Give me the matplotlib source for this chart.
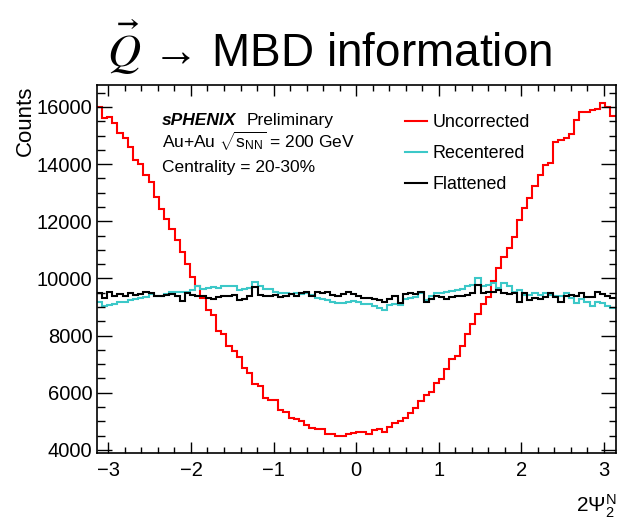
import numpy as np
import matplotlib
matplotlib.use('Agg')
import matplotlib.pyplot as plt
from matplotlib.ticker import MultipleLocator

plt.rcParams['font.family'] = ['Liberation Sans', 'DejaVu Sans']
plt.rcParams['mathtext.fontset'] = 'custom'
plt.rcParams['mathtext.rm'] = 'Liberation Sans'
plt.rcParams['mathtext.it'] = 'Liberation Sans:italic'
plt.rcParams['mathtext.bf'] = 'Liberation Sans:bold'

# 100 bins over [-pi, pi]
n_bins = 100

uncorrected = [16000, 15600, 15640, 15450, 15080, 14920, 14610, 14140, 14020, 13610,
               13380, 12850, 12440, 12090, 11740, 11330, 10920, 10510, 10060, 9720,
               9330, 8910, 8710, 8160, 8070, 7620, 7460, 7250, 6850, 6700,
               6320, 6240, 5810, 5760, 5740, 5400, 5340, 5110, 5075, 4995,
               4880, 4760, 4740, 4715, 4560, 4540, 4480, 4470, 4570, 4600,
               4620, 4610, 4550, 4680, 4720, 4630, 4800, 4935, 5005, 5120,
               5305, 5450, 5700, 5910, 6030, 6350, 6480, 6830, 7180, 7300,
               7650, 8060, 8410, 8760, 9110, 9350, 9900, 10350, 10760, 11080,
               11460, 12050, 12450, 12800, 13220, 13630, 13970, 14030, 14780, 14860,
               14930, 15060, 15550, 15820, 15830, 15880, 15940, 16150, 16010, 15690]

recentered = [9190, 9020, 9075, 9100, 9160, 9190, 9250, 9280, 9310, 9340,
              9450, 9370, 9390, 9450, 9540, 9510, 9540, 9540, 9600, 9720,
              9640, 9660, 9690, 9660, 9720, 9720, 9740, 9580, 9620, 9660,
              9860, 9720, 9620, 9620, 9520, 9480, 9480, 9460, 9480, 9460,
              9480, 9430, 9310, 9270, 9230, 9190, 9150, 9130, 9180, 9220,
              9170, 9110, 9090, 9030, 8980, 8880, 9080, 9110, 9070, 9290,
              9310, 9340, 9480, 9260, 9370, 9480, 9490, 9540, 9550, 9580,
              9620, 9720, 9770, 10030, 9740, 9770, 9830, 9660, 9830, 9740,
              9540, 9600, 9430, 9430, 9480, 9430, 9480, 9430, 9370, 9370,
              9480, 9310, 9130, 9270, 9190, 9020, 9190, 9130, 9020, 8960]

flattened = [9480, 9310, 9520, 9390, 9460, 9390, 9480, 9430, 9450, 9540,
             9480, 9390, 9390, 9430, 9450, 9390, 9200, 9480, 9430, 9390,
             9370, 9310, 9280, 9340, 9370, 9390, 9430, 9250, 9280, 9390,
             9690, 9430, 9390, 9390, 9410, 9340, 9390, 9450, 9370, 9480,
             9540, 9370, 9540, 9480, 9540, 9430, 9390, 9450, 9540, 9470,
             9380, 9320, 9310, 9270, 9250, 9160, 9270, 9390, 9130, 9450,
             9480, 9450, 9540, 9190, 9270, 9370, 9340, 9270, 9340, 9390,
             9370, 9430, 9480, 9770, 9480, 9540, 9510, 9580, 9480, 9460,
             9480, 9190, 9480, 9250, 9310, 9270, 9340, 9480, 9340, 9190,
             9370, 9430, 9370, 9480, 9340, 9340, 9510, 9450, 9370, 9310]

x_ticks = [-3, -2, -1, 0, 1, 2, 3]
x_ticklabels = ['\u22123', '\u22122', '\u22121', '0', '1', '2', '3']

edges = np.linspace(-np.pi, np.pi, n_bins + 1)

W, H = 619, 519
fig = plt.figure(figsize=(W / 100, H / 100), dpi=100)
ax = fig.add_axes([96.7 / W, 1 - 453 / H, (615.5 - 96.7) / W, (453 - 85) / H])

ax.stairs(uncorrected, edges, baseline=None, color='#ff0000', lw=1.5, label='Uncorrected')
ax.stairs(recentered, edges, baseline=None, color='#3cc8c8', lw=1.5, label='Recentered')
ax.stairs(flattened, edges, baseline=None, color='black', lw=1.5, label='Flattened')

ax.set_xlim(-np.pi, np.pi)
ax.set_ylim(3890, 16770)

ax.set_xticks(x_ticks)
ax.set_xticklabels(x_ticklabels)
ax.xaxis.set_minor_locator(MultipleLocator(0.2))
ax.yaxis.set_major_locator(MultipleLocator(2000))
ax.yaxis.set_minor_locator(MultipleLocator(500))
ax.tick_params(which='both', direction='in', top=True, right=True, width=1.0, labelsize=14.5)
ax.tick_params(axis='x', which='major', length=8, pad=6)
ax.tick_params(axis='x', which='minor', length=4)
ax.tick_params(axis='y', which='major', length=10.8, pad=3)
ax.tick_params(axis='y', which='minor', length=5.4)
for s in ax.spines.values():
    s.set_linewidth(1.2)

ax.legend(loc='upper left', bbox_to_anchor=(405 / W, 1 - 114 / H), bbox_transform=fig.transFigure,
          frameon=False, fontsize=12.9, handlelength=1.2, handletextpad=0.35,
          labelspacing=0.78, borderpad=0, borderaxespad=0)

# title
fig.text(107 / W, 1 - 67 / H, '$\\vec{Q}$ \u2192 MBD information',
         fontsize=33, ha='left', va='baseline', math_fontfamily='stix')

# axis titles
fig.text(25 / W, 1 - 86 / H, 'Counts', rotation=90, fontsize=16, ha='center', va='top')
fig.text(617 / W, 1 - 512 / H, r'2$\Psi_{2}^{\mathrm{N}}$', fontsize=15, ha='right', va='baseline')

# preliminary text
fig.text(161.7 / W, 1 - 125 / H, 'sPHENIX', fontsize=12.5, fontweight='bold', fontstyle='italic',
         ha='left', va='baseline')
fig.text(246.7 / W, 1 - 125 / H, 'Preliminary', fontsize=12.5, ha='left', va='baseline')
fig.text(161.7 / W, 1 - 148.3 / H, r'Au+Au $\sqrt{\mathrm{s}_{\mathrm{NN}}}$ = 200 GeV', fontsize=12.5,
         ha='left', va='baseline')
fig.text(161.7 / W, 1 - 171.7 / H, 'Centrality = 20-30%', fontsize=12.5, ha='left', va='baseline')

fig.savefig('out.png', dpi=100)
